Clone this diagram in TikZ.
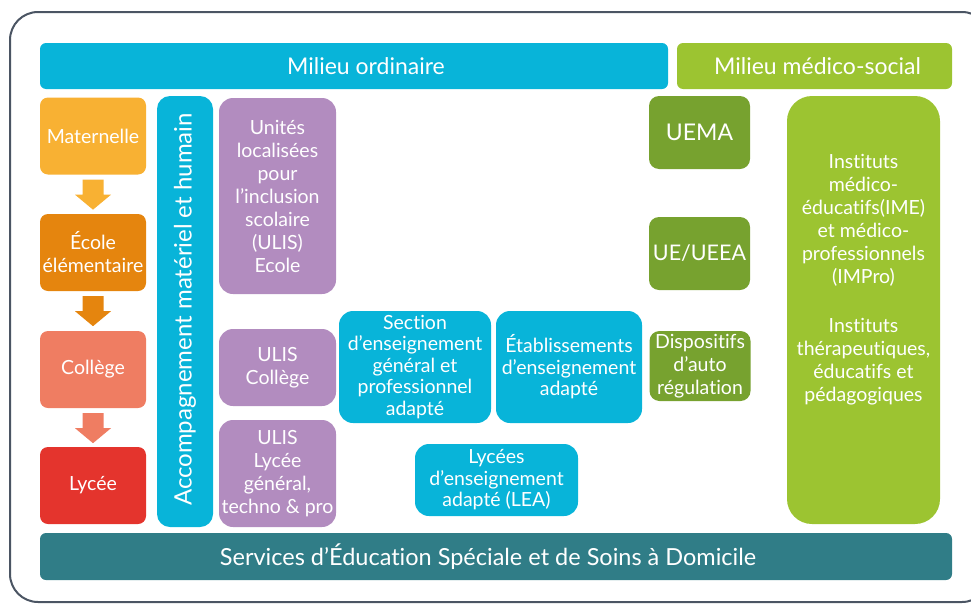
\documentclass[tikz,border=0pt]{standalone}
\usepackage{fontspec}
\setmainfont{Lato}[Ligatures=NoCommon]
\usetikzlibrary{calc}
\definecolor{cyanC}{HTML}{08B4D9}
\definecolor{greenL}{HTML}{9CC431}
\definecolor{greenD}{HTML}{77A22F}
\definecolor{purpleC}{HTML}{B28CBF}
\definecolor{matC}{HTML}{F8B133}
\definecolor{ecoC}{HTML}{E5850E}
\definecolor{colC}{HTML}{EF7D62}
\definecolor{lycC}{HTML}{E4342D}
\definecolor{tealC}{HTML}{307D87}
\definecolor{borderC}{HTML}{4B5563}
\tikzset{
  box/.style={inner sep=0pt, text=white, align=center, font=\fontsize{19.5}{23}\selectfont},
  bar/.style={box, rounded corners=6pt, font=\fontsize{23}{26}\selectfont},
  lvl/.style={box, rounded corners=8pt, minimum width=106pt, minimum height=77pt},
  pur/.style={box, fill=purpleC, rounded corners=14pt, minimum width=117pt},
  cy/.style={box, fill=cyanC, rounded corners=14pt},
  gd/.style={box, fill=greenD, rounded corners=10pt, minimum width=101pt},
}
\newcommand{\downarr}[2]{%
  \fill[#2] ($(#1.south)+(-10.5,5)$) -- ($(#1.south)+(10.5,5)$) -- ($(#1.south)+(10.5,20)$) --
    ($(#1.south)+(18,20)$) -- ($(#1.south)+(0,35)$) -- ($(#1.south)+(-18,20)$) --
    ($(#1.south)+(-10.5,20)$) -- cycle;}
\begin{document}
\begin{tikzpicture}[x=1pt,y=-1pt]
\useasboundingbox (0,0) rectangle (971,605);
\draw[borderC, line width=2pt, rounded corners=28pt] (10,12) rectangle (990,602);

\node[bar, fill=cyanC, minimum width=628pt, minimum height=46pt] (mo) at (354,66) {\hspace*{24pt}Milieu ordinaire};
\node[bar, fill=greenL, minimum width=275pt, minimum height=46pt] (mms) at (814.5,66) {\hspace*{6pt}Milieu médico-social};

\node[lvl, fill=matC] (mat) at (93,136) {Maternelle};
\node[lvl, fill=ecoC] (eco) at (93,252.5) {École\\élémentaire};
\node[lvl, fill=colC] (col) at (93,369.5) {Collège};
\node[lvl, fill=lycC] (lyc) at (93,485.5) {Lycée};
\downarr{mat}{matC}
\downarr{eco}{ecoC}
\downarr{col}{colC}

\node[box, fill=cyanC, rounded corners=13pt, minimum width=56pt, minimum height=431pt] (acc) at (185,311.5) {};
\node[box, rotate=90, font=\fontsize{24}{28}\selectfont] (acct) at ($(acc.center)+(0,-2)$) {Accompagnement matériel et humain};

\node[pur, minimum height=196pt] (ulis1) at (277.5,196) {Unités\\localisées\\pour\\l’inclusion\\scolaire\\(ULIS)\\Ecole};
\node[pur, minimum height=77pt] (ulis2) at (277.5,367.5) {ULIS\\Collège};
\node[pur, minimum height=107pt] (ulis3) at (277.5,473.5) {ULIS\\Lycée\\général,\\techno \& pro};

\node[cy, minimum width=152pt, minimum height=112pt, font=\fontsize{19.5}{21.5}\selectfont] (segpa) at (415,367) {Section\\d’enseignement\\général et\\professionnel\\adapté};
\node[cy, minimum width=146pt, minimum height=112pt, font=\fontsize{19.5}{21.5}\selectfont] (ea) at (569,367) {Établissements\\d’enseignement\\adapté};
\node[cy, minimum width=163pt, minimum height=72pt, font=\fontsize{19.5}{21.5}\selectfont] (lea) at (496.5,480) {Lycées\\d’enseignement\\adapté (LEA)};

\node[gd, minimum height=73pt, font=\fontsize{23}{26}\selectfont] (uema) at (699.5,132.5) {UEMA};
\node[gd, minimum height=73pt, font=\fontsize{21.5}{26}\selectfont] (ue) at (699.5,253.5) {UE/UEEA};
\node[gd, minimum height=70pt, font=\fontsize{19.5}{23}\selectfont] (dar) at (700,366) {Dispositifs\\d’auto\\régulation};

\node[box, fill=greenL, rounded corners=25pt, minimum width=153pt, minimum height=428pt] (ime) at (863.5,310) {};
\node[box] (imet) at (863.5,220) {Instituts\\médico-\\éducatifs(IME)\\et médico-\\professionnels\\(IMPro)};
\node[box] (itep) at (863.5,361.5) {Instituts\\thérapeutiques,\\éducatifs et\\pédagogiques};

\node[bar, fill=tealC, minimum width=912pt, minimum height=47pt, font=\fontsize{23.5}{26}\selectfont] (sessad) at (496,556.5) {Services d’Éducation Spéciale et de Soins à Domicile\hspace*{16pt}};
\end{tikzpicture}
\end{document}
